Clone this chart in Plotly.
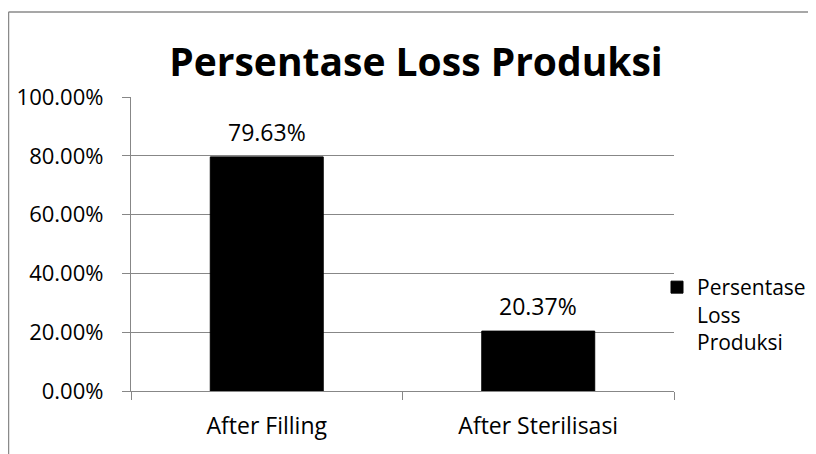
import plotly.graph_objects as go

categories = ["After Filling", "After Sterilisasi"]
values = [0.7963, 0.2037]
series_name = "Persentase<br>Loss<br>Produksi"
title_text = "<b>Persentase Loss Produksi</b>"
y_ticks = [0, 0.2, 0.4, 0.6, 0.8, 1.0]

# page body has an 8px margin, so the figure sits at (8, 8) on screen
OFF = 8
W, H = 816 - OFF, 454 - OFF
ML, MR, MT, MB = 131 - OFF, 142, 97 - OFF, 63
FONT = "Open Sans"
GRID = "#878787"

fig = go.Figure()
fig.add_trace(go.Bar(
    x=categories, y=values, name=series_name,
    marker=dict(color="#000000", line=dict(color="#000000", width=1)),
    showlegend=True,
))

annotations = []
for c, v in zip(categories, values):
    annotations.append(dict(
        x=c, y=v, xref="x", yref="y", text=f"{v*100:.2f}%",
        showarrow=False, yanchor="middle", yshift=25,
        font=dict(family=FONT, size=23, color="#000000"),
    ))

pw = W - ML - MR
ph = H - MT - MB
def px_x(p):  # screen px -> paper
    return (p - OFF - ML) / pw
def px_y(p):
    return (H - MB - (p - OFF)) / ph

shapes = [
    dict(type="line", xref="paper", yref="paper", x0=px_x(8.5), x1=px_x(840),
         y0=px_y(12), y1=px_y(12), line=dict(color="#8a8a8a", width=1.5)),
    dict(type="line", xref="paper", yref="paper", x0=px_x(8.5), x1=px_x(8.5),
         y0=px_y(12), y1=px_y(480), line=dict(color="#8a8a8a", width=1.5)),
]

fig.update_layout(
    width=W, height=H,
    margin=dict(l=ML, r=MR, t=MT, b=MB, autoexpand=False),
    paper_bgcolor="white", plot_bgcolor="white",
    font=dict(family=FONT, size=22, color="#000000"),
    title=dict(text=title_text, xref="container", yref="container",
               x=(416 - OFF) / W, xanchor="center", y=1 - (62 - OFF) / H, yanchor="middle",
               font=dict(family=FONT, size=39, color="#000000")),
    bargap=0.584,
    showlegend=True,
    legend=dict(x=px_x(657), y=px_y(267), xanchor="left", yanchor="top",
                valign="top", font=dict(family=FONT, size=21, color="#000000"),
                bgcolor="rgba(0,0,0,0)", itemclick=False),
    annotations=annotations,
    shapes=shapes,
    xaxis=dict(type="category", showgrid=False, showline=True, linecolor=GRID, linewidth=1.3,
               ticks="outside", tickson="boundaries", ticklen=8, tickcolor=GRID, tickwidth=1.3,
               ticklabelstandoff=14, tickfont=dict(family=FONT, size=23, color="#000000"),
               mirror=False, zeroline=False),
    yaxis=dict(range=[0, 1], tickvals=y_ticks, tickformat=".2%", showgrid=True,
               gridcolor=GRID, gridwidth=1.3, showline=True, linecolor=GRID, linewidth=1.3,
               ticks="outside", ticklen=8, tickcolor=GRID, tickwidth=1.3,
               ticklabelstandoff=14, tickfont=dict(family=FONT, size=22, color="#000000"),
               zeroline=False),
)

fig.write_html("out.html")
